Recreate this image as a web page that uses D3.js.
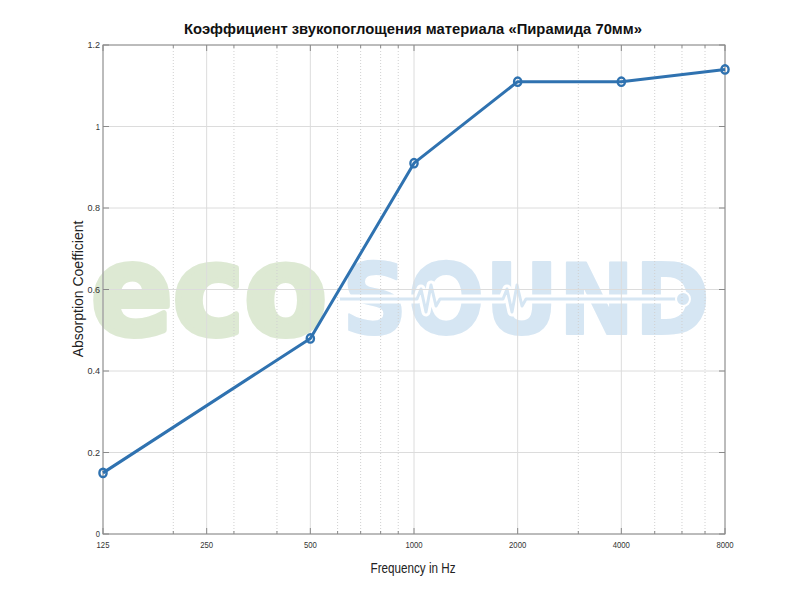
<!DOCTYPE html>
<html><head><meta charset="utf-8">
<script src="https://cdn.jsdelivr.net/npm/d3@7"></script>
<style>body{margin:0;background:#fff;}</style>
</head><body>
<svg id="c" width="800" height="600"></svg>
<script>
const frequencies = [125, 500, 1000, 2000, 4000, 8000];
const absorption = [0.15, 0.48, 0.91, 1.11, 1.11, 1.14];
const xTickLabels = [125, 250, 500, 1000, 2000, 4000, 8000];
const xMinorTicks = [200, 300, 400, 600, 700, 800, 900, 3000, 5000, 6000, 7000];
const yTicks = [0, 0.2, 0.4, 0.6, 0.8, 1, 1.2];
const titleText = "Коэффициент звукопоглощения материала «Пирамида 70мм»";
const xLabel = "Frequency in Hz";
const yLabel = "Absorption Coefficient";

const svg = d3.select("#c");
const m = {l:103, r:75, t:45, b:66};
const W = 800, H = 600;
const x = d3.scaleLog().base(2).domain([125, 8000]).range([m.l, W - m.r]);
const y = d3.scaleLinear().domain([0, 1.2]).range([H - m.b, m.t]);

// watermark
const wm = svg.append("g").attr("class","watermark");
wm.append("text").attr("x", 91).attr("y", 334).text("eco")
  .attr("font-family","DejaVu Sans").attr("font-weight","bold").attr("font-size",124)
  .attr("textLength",236).attr("lengthAdjust","spacingAndGlyphs").attr("fill","#dde9d3")
  .attr("stroke","#dde9d3").attr("stroke-width",6).attr("stroke-linejoin","round");
wm.append("text").attr("x", 342).attr("y", 334).text("SOUND")
  .attr("font-family","DejaVu Sans").attr("font-weight","bold").attr("font-size",98)
  .attr("textLength",368).attr("lengthAdjust","spacingAndGlyphs").attr("fill","#d6e6f3")
  .attr("stroke","#d6e6f3").attr("stroke-width",2).attr("stroke-linejoin","round");
const wave = "M340,299 L417,299 L421,289 L426,312 L431,285 L436,306 L440,299 L503,299 L507,289 L512,312 L517,285 L522,306 L526,299 L683,299";
wm.append("path").attr("d", wave).attr("fill","none").attr("stroke","#fff").attr("stroke-width",9).attr("stroke-linejoin","round");
wm.append("path").attr("d", wave).attr("fill","none").attr("stroke","#d6e6f3").attr("stroke-width",3).attr("stroke-linejoin","round");
wm.append("circle").attr("cx",683).attr("cy",299).attr("r",7).attr("fill","#d6e6f3").attr("stroke","#fff").attr("stroke-width",2);

// grid
const g = svg.append("g");
g.selectAll(".hg").data(yTicks).join("line")
  .attr("x1", m.l).attr("x2", W - m.r).attr("y1", d => y(d)).attr("y2", d => y(d))
  .attr("stroke","#dcdcdc").attr("stroke-width",1);
g.selectAll(".vg").data(xTickLabels).join("line")
  .attr("y1", m.t).attr("y2", H - m.b).attr("x1", d => x(d)).attr("x2", d => x(d))
  .attr("stroke","#dcdcdc").attr("stroke-width",1);
g.selectAll(".vm").data(xMinorTicks).join("line")
  .attr("y1", m.t).attr("y2", H - m.b).attr("x1", d => x(d)).attr("x2", d => x(d))
  .attr("stroke","#d0d0d0").attr("stroke-width",1).attr("stroke-dasharray","1,2");

// axes box
const ax = svg.append("g").attr("font-family","Liberation Sans, Arial").attr("font-size",9).attr("fill","#333");
ax.append("rect").attr("x", m.l).attr("y", m.t).attr("width", W - m.r - m.l).attr("height", H - m.b - m.t)
  .attr("fill","none").attr("stroke","#8a8a8a").attr("stroke-width",1);
ax.selectAll(".yt").data(yTicks).join("line")
  .attr("x1", m.l).attr("x2", m.l + 6).attr("y1", d => y(d)).attr("y2", d => y(d)).attr("stroke","#8a8a8a");
ax.selectAll(".yt2").data(yTicks).join("line")
  .attr("x1", W - m.r).attr("x2", W - m.r - 6).attr("y1", d => y(d)).attr("y2", d => y(d)).attr("stroke","#8a8a8a");
ax.selectAll(".yl").data(yTicks).join("text")
  .attr("x", m.l - 3).attr("y", d => y(d) + 3).attr("text-anchor","end")
  .attr("textLength", d => d3.format("~g")(d).length * 4.2).attr("lengthAdjust","spacingAndGlyphs")
  .text(d => d3.format("~g")(d));
ax.selectAll(".xt").data(xTickLabels).join("line")
  .attr("y1", H - m.b).attr("y2", H - m.b - 6).attr("x1", d => x(d)).attr("x2", d => x(d)).attr("stroke","#8a8a8a");
ax.selectAll(".xt2").data(xTickLabels).join("line")
  .attr("y1", m.t).attr("y2", m.t + 6).attr("x1", d => x(d)).attr("x2", d => x(d)).attr("stroke","#8a8a8a");
ax.selectAll(".xmt").data(xMinorTicks).join("line")
  .attr("y1", H - m.b).attr("y2", H - m.b - 3).attr("x1", d => x(d)).attr("x2", d => x(d)).attr("stroke","#8a8a8a");
ax.selectAll(".xmt2").data(xMinorTicks).join("line")
  .attr("y1", m.t).attr("y2", m.t + 3).attr("x1", d => x(d)).attr("x2", d => x(d)).attr("stroke","#8a8a8a");
ax.selectAll(".xl").data(xTickLabels).join("text")
  .attr("x", d => x(d)).attr("y", H - m.b + 14).attr("text-anchor","middle")
  .attr("textLength", d => String(d).length * 4.3).attr("lengthAdjust","spacingAndGlyphs")
  .text(d => d);

// labels
svg.append("text").attr("x", 413).attr("y", 34).attr("text-anchor","middle")
  .attr("font-family","Liberation Sans, Arial").attr("font-weight","bold").attr("font-size",14.8).attr("fill","#111").text(titleText);
svg.append("text").attr("x", 413).attr("y", 573).attr("text-anchor","middle")
  .attr("font-family","Liberation Sans, Arial").attr("font-size",15)
  .attr("textLength",85).attr("lengthAdjust","spacingAndGlyphs").attr("fill","#222").text(xLabel);
svg.append("text").attr("transform","translate(83,289) rotate(-90)").attr("text-anchor","middle")
  .attr("font-family","Liberation Sans, Arial").attr("font-size",14).attr("fill","#222").text(yLabel);

// data
const pts = frequencies.map((f,i) => [f, absorption[i]]);
const color = "#2f72b0";
svg.append("path").datum(pts)
  .attr("d", d3.line().x(d => x(d[0])).y(d => y(d[1])))
  .attr("fill","none").attr("stroke",color).attr("stroke-width",3).attr("stroke-linejoin","round");
svg.selectAll(".pt").data(pts).join("ellipse")
  .attr("cx", d => x(d[0])).attr("cy", d => y(d[1])).attr("rx",3.6).attr("ry",4.2)
  .attr("fill","none").attr("stroke",color).attr("stroke-width",2.4);
</script>
</body></html>
